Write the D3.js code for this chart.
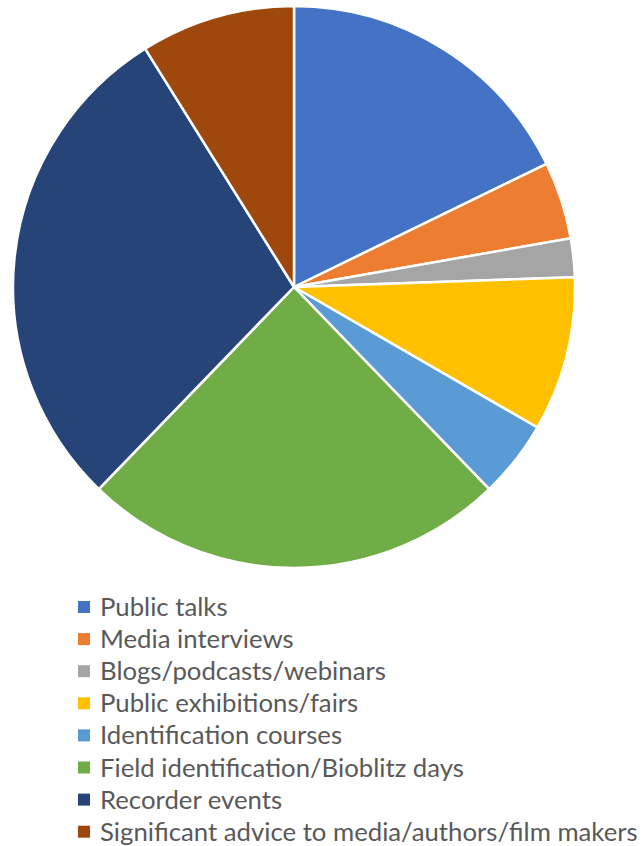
<!DOCTYPE html>
<html>
<head>
<meta charset="utf-8">
<script src="https://cdn.jsdelivr.net/npm/d3@7"></script>
<style>
  body { margin: 0; background: #fff; }
  svg { display: block; }
</style>
</head>
<body>
<div id="chart"></div>
<script>
// data
const CATEGORIES = ["Public talks", "Media interviews", "Blogs/podcasts/webinars",
                    "Public exhibitions/fairs", "Identification courses",
                    "Field identification/Bioblitz days", "Recorder events",
                    "Significant advice to media/authors/film makers"];
const VALUES = [8, 2, 1, 4, 2, 11, 13, 4];
const COLORS = ["#4472C4", "#ED7D31", "#A5A5A5", "#FFC000",
                "#5B9BD5", "#70AD47", "#264478", "#9E480E"];

// frame
const FRAME_WIDTH = 643;
const FRAME_HEIGHT = 846;
const CENTER = {x: 294, y: 287};
const RADIUS = 281;

const FRAME = d3.select("#chart")
                .append("svg")
                  .attr("width", FRAME_WIDTH)
                  .attr("height", FRAME_HEIGHT);

const data = CATEGORIES.map((c, i) => ({name: c, value: VALUES[i], color: COLORS[i]}));

// pie
const pie = d3.pie().sort(null).value(d => d.value);
const arc = d3.arc().innerRadius(0).outerRadius(RADIUS);

FRAME.append("g")
      .attr("transform", "translate(" + CENTER.x + "," + CENTER.y + ")")
    .selectAll("path")
    .data(pie(data))
    .enter().append("path")
      .attr("d", arc)
      .attr("fill", d => d.data.color)
      .attr("stroke", "#fff")
      .attr("stroke-width", 2.5)
      .attr("stroke-linejoin", "round");

// legend
const LEG_X = 78;
const LEG_Y0 = 607;
const LEG_STEP = 32.1;
const SQ = 12;

const legend = FRAME.append("g")
                .selectAll(".leg")
                .data(data)
                .enter().append("g")
                  .attr("class", "leg")
                  .attr("transform", (d, i) => "translate(" + LEG_X + "," + (LEG_Y0 + i * LEG_STEP) + ")");

legend.append("rect")
      .attr("x", 0)
      .attr("y", -SQ / 2)
      .attr("width", SQ)
      .attr("height", SQ)
      .attr("fill", d => d.color);

const labels = legend.append("text")
      .attr("x", 22)
      .attr("y", 0)
      .attr("dy", "0.35em")
      .attr("fill", "#595959")
      .style("font-family", "Lato, 'Open Sans', sans-serif")
      .style("font-size", "25px")
      .text(d => d.name);

// fit the longest label to the reference width
const longest = d3.max(labels.nodes(), n => n.getComputedTextLength());
const fitted = 25 * 538 / longest;
labels.style("font-size", fitted + "px");
</script>
</body>
</html>
